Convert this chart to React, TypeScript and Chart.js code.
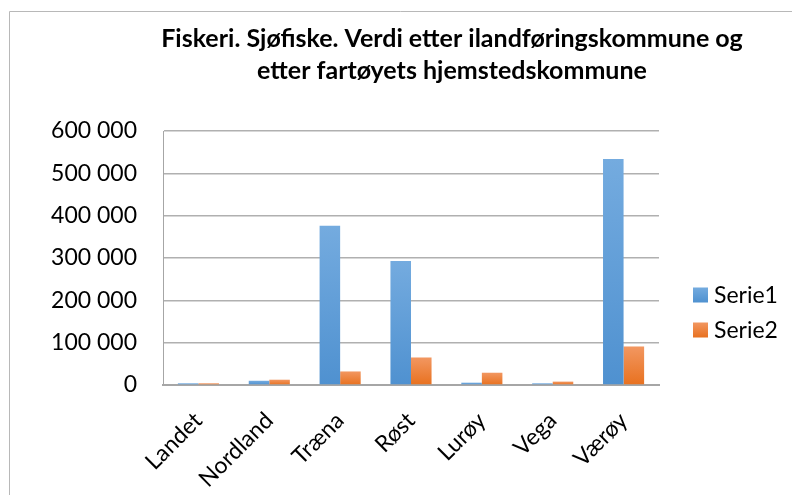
import React, { useEffect, useRef } from "react";
import { Chart, registerables } from "chart.js";

Chart.register(...registerables);

const titleLines = [
  "Fiskeri. Sjøfiske. Verdi etter ilandføringskommune og",
  "etter fartøyets hjemstedskommune",
];
const categories = ["Landet", "Nordland", "Træna", "Røst", "Lurøy", "Vega", "Værøy"];
const serie1 = [4000, 10000, 376000, 293000, 5500, 4000, 534000];
const serie2 = [4000, 12500, 32000, 65000, 29000, 8000, 91000];
const seriesNames = ["Serie1", "Serie2"];
const yMax = 600000;
const yStep = 100000;

const FONT = "Lato, 'Open Sans', sans-serif";
const W = 792;
const H = 495;

const blueTop = "#74abdf";
const blueBottom = "#4f91d0";
const orangeTop = "#f29761";
const orangeBottom = "#e8711f";

function formatTick(v: number): string {
  const s = Math.round(v).toString();
  return s.replace(/\B(?=(\d{3})+(?!\d))/g, " ");
}

function gradientFor(top: string, bottom: string) {
  return (ctx: any) => {
    const chart = ctx.chart;
    const area = chart.chartArea;
    if (!area || ctx.type !== "data") return bottom;
    const ys = chart.scales.y;
    const v = ctx.raw as number;
    const y0 = ys.getPixelForValue(v);
    const y1 = ys.getPixelForValue(0);
    if (!isFinite(y0) || !isFinite(y1) || Math.abs(y1 - y0) < 1) return bottom;
    const g = chart.ctx.createLinearGradient(0, y0, 0, y1);
    g.addColorStop(0, top);
    g.addColorStop(1, bottom);
    return g;
  };
}

const decorPlugin = {
  id: "decor",
  beforeDraw(chart: any) {
    const ctx = chart.ctx;
    ctx.save();
    ctx.strokeStyle = "#b8b8b8";
    ctx.lineWidth = 1;
    ctx.beginPath();
    ctx.moveTo(9.5, H);
    ctx.lineTo(9.5, 11.5);
    ctx.lineTo(W, 11.5);
    ctx.stroke();
    ctx.restore();
  },
  afterDraw(chart: any) {
    const ctx = chart.ctx;
    ctx.save();
    // title
    ctx.fillStyle = "#000";
    ctx.font = `bold 25px ${FONT}`;
    ctx.textAlign = "center";
    ctx.textBaseline = "middle";
    titleLines.forEach((t, i) => ctx.fillText(t, 452, 39 + i * 32));
    // legend
    const items = chart.data.datasets.map((d: any, i: number) => ({
      label: d.label,
      color: i === 0 ? [blueTop, blueBottom] : [orangeTop, orangeBottom],
    }));
    ctx.font = `23px ${FONT}`;
    ctx.textAlign = "left";
    items.forEach((it: any, i: number) => {
      const cy = 295 + i * 35;
      const g = ctx.createLinearGradient(0, cy - 7.5, 0, cy + 7.5);
      g.addColorStop(0, it.color[0]);
      g.addColorStop(1, it.color[1]);
      ctx.fillStyle = g;
      ctx.fillRect(693, cy - 7.5, 15, 15);
      ctx.fillStyle = "#000";
      ctx.fillText(it.label, 714, cy + 1);
    });
    ctx.restore();
  },
};

export default function App() {
  const ref = useRef<HTMLCanvasElement | null>(null);
  useEffect(() => {
    if (!ref.current) return;
    const chart = new Chart(ref.current, {
      type: "bar",
      data: {
        labels: categories,
        datasets: [
          {
            label: seriesNames[0],
            data: serie1,
            backgroundColor: gradientFor(blueTop, blueBottom),
            borderWidth: 0,
          },
          {
            label: seriesNames[1],
            data: serie2,
            backgroundColor: gradientFor(orangeTop, orangeBottom),
            borderWidth: 0,
          },
        ],
      },
      options: {
        animation: false,
        responsive: false,
        devicePixelRatio: 1,
        layout: { padding: { top: 131, left: 0, right: 133, bottom: 0 } },
        datasets: { bar: { categoryPercentage: 0.58, barPercentage: 1 } },
        plugins: {
          legend: { display: false },
          title: { display: false },
          tooltip: { enabled: false },
        },
        scales: {
          x: {
            grid: { display: false, drawTicks: false },
            border: { display: true, color: "#a6a6a6", width: 2 },
            ticks: {
              autoSkip: false,
              minRotation: 45,
              maxRotation: 45,
              padding: 22,
              color: "#000",
              font: { family: FONT, size: 23 },
            },
            afterFit: (s: any) => {
              s.height = H - 385;
            },
          },
          y: {
            min: 0,
            max: yMax,
            grid: { color: "#b0b0b0", lineWidth: 1.5, drawTicks: false },
            border: { display: true, color: "#a6a6a6", width: 1 },
            ticks: {
              stepSize: yStep,
              padding: 26,
              color: "#000",
              font: { family: FONT, size: 23 },
              callback: (v: any) => formatTick(Number(v)),
            },
            afterFit: (s: any) => {
              s.width = 163;
            },
          },
        },
      },
      plugins: [decorPlugin],
    });
    return () => chart.destroy();
  }, []);
  return (
    <div style={{ position: "absolute", left: 0, top: 0, width: W, height: H, background: "#fff" }}>
      <canvas ref={ref} width={W} height={H} style={{ width: W, height: H, display: "block" }} />
    </div>
  );
}
